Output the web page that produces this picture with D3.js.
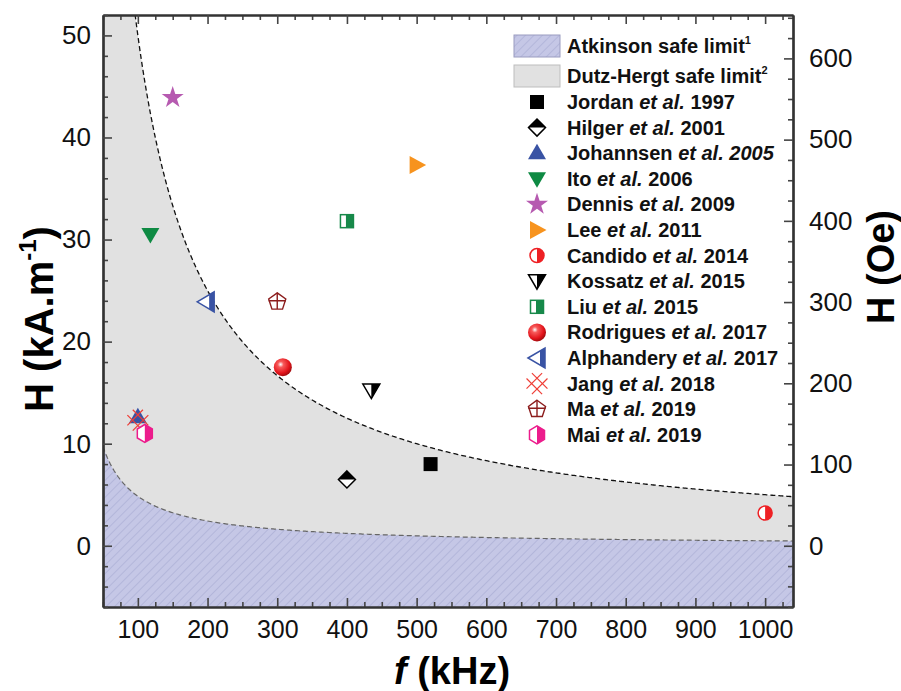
<!DOCTYPE html>
<html>
<head>
<meta charset="utf-8">
<script src="https://cdn.jsdelivr.net/npm/d3@7"></script>
<style>
  body { margin: 0; background: #fff; }
  svg { display: block; font-family: "Liberation Sans", Arial, sans-serif; }
</style>
</head>
<body>
<div id="chartCtn"></div>
<script>
// studies plotted as points (frequency in kHz, field in kA/m)
const authors = ["Jordan", "Hilger", "Johannsen", "Ito", "Dennis", "Lee", "Candido", "Kossatz",
  "Liu", "Rodrigues", "Alphandery", "Jang", "Ma", "Mai"];
const years = ["1997", "2001", "2005", "2006", "2009", "2011", "2014", "2015",
  "2015", "2017", "2017", "2018", "2019", "2019"];
const freqKHz = [520, 400, 100, 118, 150, 500, 1000, 435, 400, 308, 198, 100, 300, 110];
const fieldKAm = [8.0, 6.5, 12.6, 30.5, 43.9, 37.3, 3.2, 15.2, 31.8, 17.5, 23.9, 12.3, 23.9, 11.0];

// safe limits, H*f product in A m^-1 s^-1
const atkinsonLimit = 4.85e8;
const dutzHergtLimit = 5e9;

const xTicks = [100, 200, 300, 400, 500, 600, 700, 800, 900, 1000];
const yTicksKAm = [0, 10, 20, 30, 40, 50];
const yTicksOe = [0, 100, 200, 300, 400, 500, 600];
const oePerKAm = 12.566;

// marker look for each study (same order as above)
const markerTypes = ["square", "diamondHalf", "triUp", "triDown", "star", "triRight", "circleHalf",
  "triDownHalf", "squareHalf", "sphere", "triLeftHalf", "jang", "pentagonCross", "hexHalf"];
const markerColors = ["#000", "#000", "#3953a4", "#0e8a43", "#b65ab0", "#f7931e", "#ee2024",
  "#000", "#17894a", "#e8141b", "#3953a4", "#ef3e36", "#8c1d1d", "#ec1c8c"];

const width = 901, height = 691;
const margin = { top: 15, right: 108, bottom: 84, left: 103 };
const innerW = width - margin.left - margin.right;
const innerH = height - margin.top - margin.bottom;

const x = d3.scaleLinear().domain([50, 1040]).range([0, innerW]);
const y = d3.scaleLinear().domain([-6, 52]).range([innerH, 0]);
const yOe = d3.scaleLinear().domain([-6 * oePerKAm, 52 * oePerKAm]).range([innerH, 0]);

const svg = d3.select("#chartCtn").append("svg")
  .attr("width", width).attr("height", height);

const defs = svg.append("defs");
const hatch = defs.append("pattern")
  .attr("id", "hatch").attr("patternUnits", "userSpaceOnUse")
  .attr("width", 6).attr("height", 6)
  .attr("patternTransform", "rotate(45)");
hatch.append("rect").attr("width", 6).attr("height", 6).attr("fill", "#c5c7e6");
hatch.append("line").attr("x1", 0).attr("y1", 0).attr("x2", 0).attr("y2", 6)
  .attr("stroke", "#a7aad2").attr("stroke-width", 1.2);

const grad = defs.append("radialGradient").attr("id", "sphere")
  .attr("cx", "38%").attr("cy", "35%").attr("r", "65%");
grad.append("stop").attr("offset", "0%").attr("stop-color", "#fff");
grad.append("stop").attr("offset", "25%").attr("stop-color", "#f75a5a");
grad.append("stop").attr("offset", "75%").attr("stop-color", "#e3141b");
grad.append("stop").attr("offset", "100%").attr("stop-color", "#a80d10");

defs.append("clipPath").attr("id", "plotClip")
  .append("rect").attr("width", innerW).attr("height", innerH);

const g = svg.append("g").attr("transform", `translate(${margin.left},${margin.top})`);

// limit curves: H (kA/m) = limit / f(Hz) / 1000
const limitH = (c, f) => c / (f * 1e3) / 1e3;
const fSamples = d3.range(50, 1041, 2);

const plot = g.append("g").attr("clip-path", "url(#plotClip)");

plot.append("path")
  .datum(fSamples)
  .attr("fill", "#e1e1e1")
  .attr("d", d3.area()
    .x(f => x(f))
    .y0(innerH)
    .y1(f => y(Math.min(limitH(dutzHergtLimit, f), 60))));

plot.append("path")
  .datum(fSamples)
  .attr("fill", "url(#hatch)")
  .attr("d", d3.area()
    .x(f => x(f))
    .y0(innerH)
    .y1(f => y(limitH(atkinsonLimit, f))));

plot.append("path")
  .datum(fSamples)
  .attr("fill", "none")
  .attr("stroke", "#666")
  .attr("stroke-width", 1.2)
  .attr("stroke-dasharray", "5,3")
  .attr("d", d3.line().x(f => x(f)).y(f => y(limitH(atkinsonLimit, f))));

plot.append("path")
  .datum(fSamples)
  .attr("fill", "none")
  .attr("stroke", "#111")
  .attr("stroke-width", 1.3)
  .attr("stroke-dasharray", "5,3")
  .attr("d", d3.line().x(f => x(f)).y(f => y(Math.min(limitH(dutzHergtLimit, f), 60))));

// axes
const axisColor = "#333";
function styleAxis(sel) {
  sel.select(".domain").attr("stroke", axisColor).attr("stroke-width", 2.2);
  sel.selectAll(".tick line").attr("stroke", "#444").attr("stroke-width", 1.6);
  sel.selectAll("text").attr("fill", "#111");
}
const minor = (lo, hi, step, majors) => d3.range(lo, hi + 0.001, step).filter(v => !majors.includes(v));

// x minor ticks
g.append("g").attr("transform", `translate(0,${innerH})`)
  .call(d3.axisBottom(x).tickValues(minor(50, 1025, 25, xTicks)).tickSize(-5).tickFormat("").tickSizeOuter(0))
  .call(styleAxis);
g.append("g")
  .call(d3.axisTop(x).tickValues(minor(50, 1025, 25, xTicks)).tickSize(-5).tickFormat("").tickSizeOuter(0))
  .call(styleAxis);

const xAxis = g.append("g").attr("transform", `translate(0,${innerH})`)
  .call(d3.axisBottom(x).tickValues(xTicks).tickFormat(d3.format("d"))
    .tickSize(-9).tickSizeOuter(0).tickPadding(13))
  .call(styleAxis);
xAxis.selectAll("text")
  .attr("font-family", "'Liberation Sans Narrow', 'Liberation Sans', Arial, sans-serif")
  .attr("font-size", 25);

g.append("g")
  .call(d3.axisTop(x).tickValues(xTicks).tickSize(-9).tickSizeOuter(0).tickFormat(""))
  .call(styleAxis);

// left axis
g.append("g")
  .call(d3.axisLeft(y).tickValues(minor(-6, 52, 2, yTicksKAm)).tickSize(-5).tickFormat("").tickSizeOuter(0))
  .call(styleAxis);
const yAxis = g.append("g")
  .call(d3.axisLeft(y).tickValues(yTicksKAm).tickSize(-9).tickSizeOuter(0).tickPadding(12))
  .call(styleAxis);
yAxis.selectAll("text").attr("font-size", 26);

// right axis (Oe)
g.append("g").attr("transform", `translate(${innerW},0)`)
  .call(d3.axisRight(yOe).tickValues(minor(-75, 650, 25, yTicksOe)).tickSize(-5).tickFormat("").tickSizeOuter(0))
  .call(styleAxis);
const yAxisR = g.append("g").attr("transform", `translate(${innerW},0)`)
  .call(d3.axisRight(yOe).tickValues(yTicksOe).tickSize(-9).tickSizeOuter(0).tickPadding(16))
  .call(styleAxis);
yAxisR.selectAll("text").attr("font-size", 26);

// axis titles
const xTitle = svg.append("text")
  .attr("x", margin.left + innerW / 2 + 4).attr("y", 684)
  .attr("text-anchor", "middle").attr("font-size", 38).attr("font-weight", "bold");
xTitle.append("tspan").attr("font-style", "italic").text("f");
xTitle.append("tspan").text(" (kHz)");

const yTitle = svg.append("text")
  .attr("transform", `translate(53,${margin.top + innerH / 2 + 8}) rotate(-90)`)
  .attr("text-anchor", "middle").attr("font-size", 40).attr("font-weight", "bold");
yTitle.append("tspan").text("H (kA.m");
yTitle.append("tspan").attr("font-size", 24).attr("dy", -17).text("-1");
yTitle.append("tspan").attr("dy", 17).text(")");

svg.append("text")
  .attr("transform", `translate(894,${margin.top + innerH / 2 - 44}) rotate(-90)`)
  .attr("text-anchor", "middle").attr("font-size", 38).attr("font-weight", "bold")
  .text("H (Oe)");

// markers
function drawMarker(sel, type, color) {
  const sw = 1.5;
  switch (type) {
    case "square":
      sel.append("rect").attr("x", -7).attr("y", -7).attr("width", 14).attr("height", 14).attr("fill", color);
      break;
    case "diamondHalf":
      sel.append("path").attr("d", "M0,-8.5L8.5,0L0,8.5L-8.5,0Z").attr("fill", "#fff").attr("stroke", color).attr("stroke-width", sw);
      sel.append("path").attr("d", "M0,-8.5L8.5,0L-8.5,0Z").attr("fill", color);
      break;
    case "triUp":
      sel.append("path").attr("d", "M0,-9.5L9,6L-9,6Z").attr("fill", color);
      break;
    case "triDown":
      sel.append("path").attr("d", "M0,9L9,-6.5L-9,-6.5Z").attr("fill", color);
      break;
    case "star":
      sel.append("path").attr("d", d3.symbol(d3.symbolStar, 150)()).attr("fill", color);
      break;
    case "triRight":
      sel.append("path").attr("d", "M9.5,0L-7,-9L-7,9Z").attr("fill", color);
      break;
    case "circleHalf":
      sel.append("circle").attr("r", 7).attr("fill", "#fff").attr("stroke", color).attr("stroke-width", sw);
      sel.append("path").attr("d", "M0,-7A7,7 0 0 1 0,7Z").attr("fill", color);
      break;
    case "triDownHalf":
      sel.append("path").attr("d", "M0,8L8.5,-6.5L-8.5,-6.5Z").attr("fill", "#fff").attr("stroke", color).attr("stroke-width", sw);
      sel.append("path").attr("d", "M0,8L8.5,-6.5L0,-6.5Z").attr("fill", color);
      break;
    case "squareHalf":
      sel.append("rect").attr("x", -6.5).attr("y", -6.5).attr("width", 13).attr("height", 13).attr("fill", "#fff").attr("stroke", color).attr("stroke-width", sw);
      sel.append("rect").attr("x", -1).attr("y", -6.5).attr("width", 7.5).attr("height", 13).attr("fill", color);
      break;
    case "sphere":
      sel.append("circle").attr("r", 9).attr("fill", "url(#sphere)");
      break;
    case "triLeftHalf":
      sel.append("path").attr("d", "M-9,0L8,-10L8,10Z").attr("fill", "#fff").attr("stroke", color).attr("stroke-width", sw);
      sel.append("path").attr("d", "M3,-7.1L8,-10L8,10L3,7.1Z").attr("fill", color);
      break;
    case "jang": {
      // diamond lattice: two parallel strokes in each diagonal direction
      const L = 11, d = 3.8, r = Math.SQRT1_2;
      [[1, 1], [1, -1]].forEach(([a, b]) => {
        [-d, d].forEach(o => {
          const px = -b * r * o, py = a * r * o;
          sel.append("line")
            .attr("x1", px - a * r * L).attr("y1", py - b * r * L)
            .attr("x2", px + a * r * L).attr("y2", py + b * r * L)
            .attr("stroke", color).attr("stroke-width", 1.2);
        });
      });
      break;
    }
    case "pentagonCross": {
      const pts = d3.range(5).map(i => {
        const a = -Math.PI / 2 + i * 2 * Math.PI / 5;
        return [9 * Math.cos(a), 9 * Math.sin(a)];
      });
      sel.append("path").attr("d", "M" + pts.join("L") + "Z").attr("fill", "none").attr("stroke", color).attr("stroke-width", 1.4);
      sel.append("path").attr("d", "M0,-9V7.3M-8.6,-1H8.6").attr("stroke", color).attr("stroke-width", 1.4);
      break;
    }
    case "hexHalf":
      sel.append("path").attr("d", "M0,-9L7.5,-4.5L7.5,4.5L0,9L-7.5,4.5L-7.5,-4.5Z").attr("fill", "#fff").attr("stroke", color).attr("stroke-width", sw);
      sel.append("path").attr("d", "M0,-9L7.5,-4.5L7.5,4.5L0,9Z").attr("fill", color);
      break;
  }
}

const pts = plot.selectAll("g.pt")
  .data(authors.map((a, i) => i))
  .enter().append("g")
  .attr("class", "pt")
  .attr("transform", i => `translate(${x(freqKHz[i])},${y(fieldKAm[i])})`);
pts.each(function (i) { drawMarker(d3.select(this), markerTypes[i], markerColors[i]); });

// legend
const lg = svg.append("g").attr("font-size", 20).attr("font-weight", "bold").attr("fill", "#111");
const lgTextX = 567, lgMarkX = 537;

lg.append("rect").attr("x", 514).attr("y", 35).attr("width", 46).attr("height", 22)
  .attr("fill", "url(#hatch)").attr("stroke", "#9a9cc0");
const t1 = lg.append("text").attr("x", lgTextX).attr("y", 53);
t1.append("tspan").text("Atkinson safe limit");
t1.append("tspan").attr("font-size", 11).attr("dy", -9).text("1");

lg.append("rect").attr("x", 514).attr("y", 65).attr("width", 46).attr("height", 22)
  .attr("fill", "#e1e1e1").attr("stroke", "#bdbdbd");
const t2 = lg.append("text").attr("x", lgTextX).attr("y", 83);
t2.append("tspan").text("Dutz-Hergt safe limit");
t2.append("tspan").attr("font-size", 11).attr("dy", -9).text("2");

const rows = lg.selectAll("g.row")
  .data(authors.map((a, i) => i))
  .enter().append("g")
  .attr("class", "row")
  .attr("transform", i => `translate(0,${102 + i * 25.6})`);
rows.each(function (i) {
  const r = d3.select(this);
  const m = r.append("g").attr("transform", `translate(${lgMarkX},0)`);
  drawMarker(m, markerTypes[i], markerColors[i]);
  const t = r.append("text").attr("x", lgTextX).attr("y", 7);
  t.append("tspan").text(authors[i] + " ");
  t.append("tspan").attr("font-style", "italic").text("et al.");
  t.append("tspan").attr("font-style", authors[i] === "Johannsen" ? "italic" : null).text(" " + years[i]);
});
</script>
</body>
</html>
